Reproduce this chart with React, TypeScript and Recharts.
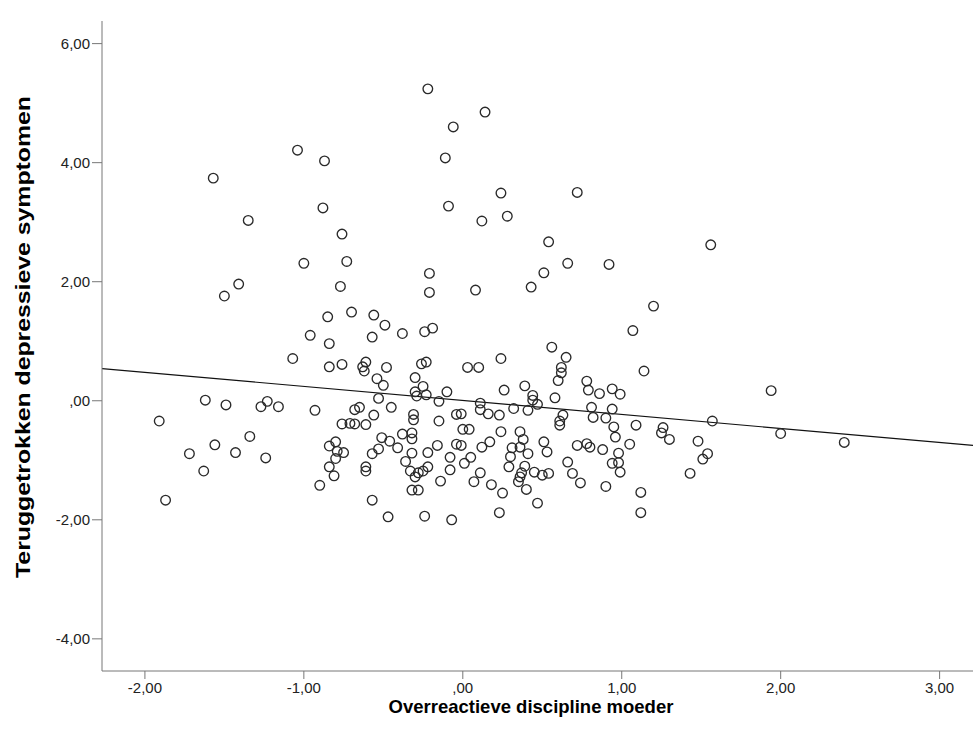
import { ScatterChart, Scatter, XAxis, YAxis, ReferenceLine } from "recharts";

// x: Overreactieve discipline moeder
const disciplineMoeder = [
  -1.04, -0.87, -1.57, -0.88, -1.35, -0.76, -1.0, -0.73, -1.41, -0.77, -1.5,
  -0.22, 0.14, -0.06, -0.11, 0.24, 0.72, -0.09, 0.12, 0.28, 0.54, 0.66, 0.92, -0.21, 0.51, -0.21, 0.08, 0.43,
  1.56, 1.2, 1.07, 1.14, 1.94, 1.57, 2.0, 2.4, 1.09, 1.26, 1.25, 1.3, 1.48, 1.54, 1.51, 1.43, 1.12, 1.12,
  -1.07, -1.62, -1.49, -1.23, -1.27, -1.16, -1.91, -1.34, -1.56, -1.72, -1.43, -1.24, -1.63, -1.87,
  -0.85, -0.7, -0.56, -0.49, -0.96, -0.84, -0.57, -0.38, -0.24, -0.19,
  -0.84, -0.76, -0.63, -0.61, -0.62, -0.48, -0.26, -0.23, -0.54, -0.5, -0.3, -0.25, -0.3, -0.29, -0.23, -0.1, 0.03, -0.53, -0.15,
  -0.93, -0.68, -0.65, -0.45, -0.56, -0.76, -0.71, -0.68, -0.61, -0.31, -0.31, -0.15, -0.04, -0.01, 0.0,
  -0.38, -0.32, -0.32, -0.51, -0.46, -0.8, -0.84, -0.41, -0.16, -0.04, -0.01,
  -0.79, -0.75, -0.53, -0.57, -0.32, -0.22, -0.8, -0.36, -0.08, 0.01,
  -0.84, -0.61, -0.61, -0.33, -0.28, -0.25, -0.22, -0.08, -0.81, -0.3, -0.9, -0.14, -0.32, -0.28, -0.57, -0.47, -0.24, -0.07,
  0.56, 0.65, 0.24, 0.1, 0.62, 0.62, 0.6, 0.78, 0.79, 0.86, 0.94, 0.99, 0.26, 0.39, 0.44, 0.44, 0.47, 0.58,
  0.11, 0.11, 0.16, 0.23, 0.32, 0.41, 0.63, 0.61, 0.61, 0.81, 0.82, 0.9, 0.94, 0.95, 0.96,
  0.04, 0.24, 0.36, 0.38, 0.17, 0.12, 0.31, 0.36, 0.41, 0.51, 0.53, 0.72, 0.78, 0.8, 0.88, 1.05, 0.98,
  0.05, 0.3, 0.29, 0.39, 0.45, 0.37, 0.36, 0.35, 0.4, 0.5, 0.54, 0.66, 0.69, 0.74, 0.94, 0.98, 0.99, 0.9,
  0.11, 0.07, 0.18, 0.25, 0.47, 0.23,
];

// y: Teruggetrokken depressieve symptomen
const depressieveSymptomen = [
  4.21, 4.03, 3.74, 3.24, 3.03, 2.8, 2.31, 2.34, 1.96, 1.92, 1.76,
  5.24, 4.85, 4.6, 4.08, 3.49, 3.5, 3.27, 3.02, 3.1, 2.67, 2.31, 2.29, 2.14, 2.15, 1.82, 1.86, 1.91,
  2.62, 1.59, 1.18, 0.5, 0.17, -0.34, -0.55, -0.7, -0.41, -0.45, -0.54, -0.65, -0.68, -0.89, -0.98, -1.22, -1.54, -1.88,
  0.71, 0.01, -0.07, -0.01, -0.1, -0.1, -0.34, -0.6, -0.74, -0.89, -0.87, -0.96, -1.18, -1.67,
  1.41, 1.49, 1.44, 1.27, 1.1, 0.96, 1.07, 1.13, 1.16, 1.22,
  0.57, 0.61, 0.57, 0.65, 0.5, 0.56, 0.62, 0.65, 0.37, 0.26, 0.39, 0.24, 0.15, 0.08, 0.1, 0.15, 0.56, 0.04, -0.01,
  -0.16, -0.15, -0.11, -0.11, -0.24, -0.39, -0.38, -0.39, -0.4, -0.23, -0.32, -0.34, -0.23, -0.22, -0.48,
  -0.56, -0.54, -0.64, -0.62, -0.68, -0.69, -0.76, -0.79, -0.75, -0.73, -0.75,
  -0.85, -0.87, -0.81, -0.89, -0.88, -0.87, -0.97, -1.02, -0.95, -1.05,
  -1.11, -1.11, -1.18, -1.18, -1.21, -1.18, -1.11, -1.16, -1.26, -1.28, -1.42, -1.35, -1.5, -1.5, -1.67, -1.95, -1.94, -2.0,
  0.9, 0.73, 0.71, 0.56, 0.56, 0.47, 0.34, 0.33, 0.18, 0.12, 0.2, 0.11, 0.18, 0.25, 0.09, 0.01, -0.06, 0.05,
  -0.04, -0.15, -0.22, -0.24, -0.13, -0.16, -0.24, -0.34, -0.41, -0.11, -0.28, -0.29, -0.14, -0.44, -0.61,
  -0.48, -0.52, -0.52, -0.65, -0.69, -0.78, -0.79, -0.78, -0.89, -0.69, -0.86, -0.75, -0.72, -0.78, -0.82, -0.73, -0.88,
  -0.95, -0.94, -1.11, -1.1, -1.2, -1.21, -1.28, -1.36, -1.49, -1.25, -1.22, -1.03, -1.22, -1.38, -1.05, -1.04, -1.2, -1.44,
  -1.21, -1.36, -1.41, -1.55, -1.72, -1.88,
];

const xTicks = [-2, -1, 0, 1, 2, 3];
const yTicks = [-4, -2, 0, 2, 4, 6];

// fit line end points (at the axis limits)
const fitX = [-2.27, 3.21];
const fitY = [0.54, -0.75];

const points = disciplineMoeder.map((x, i) => ({ x, y: depressieveSymptomen[i] }));

const FONT = '"Liberation Sans", Arial, sans-serif';

// SPSS style: 2 decimals, comma, no leading zero
const fmt = (v: number) => {
  const s = Math.abs(v).toFixed(2).replace(".", ",");
  const t = s.startsWith("0,") ? s.slice(1) : s;
  return v < 0 ? "-" + t : t;
};

const Ring = (props: any) => {
  if (props.cx == null || props.cy == null) return <g />;
  return <circle cx={props.cx} cy={props.cy} r={4.8} fill="none" stroke="#2a2a2a" strokeWidth={1.35} />;
};

const titleStyle = {
  position: "absolute" as const,
  whiteSpace: "nowrap" as const,
  fontFamily: FONT,
  fontWeight: "bold" as const,
  color: "#000",
};

const tickStyle = { fill: "#222", fontSize: 15, fontFamily: FONT };

export default function App() {
  return (
    <div style={{ position: "absolute", left: 0, top: 0, width: 974, height: 746, background: "#fff" }}>
      <ScatterChart width={974} height={746} margin={{ top: 21, right: 1, bottom: 45, left: 42 }}>
        <XAxis
          type="number"
          dataKey="x"
          domain={[-2.27, 3.21]}
          ticks={xTicks}
          allowDataOverflow
          tickFormatter={fmt}
          height={30}
          tickSize={8}
          tickMargin={3}
          stroke="#777"
          tick={tickStyle}
        />
        <YAxis
          type="number"
          dataKey="y"
          domain={[-4.54, 6.38]}
          ticks={yTicks}
          allowDataOverflow
          tickFormatter={fmt}
          width={60}
          tickSize={10}
          tickMargin={2}
          stroke="#777"
          tick={tickStyle}
        />
        <ReferenceLine
          segment={[
            { x: fitX[0], y: fitY[0] },
            { x: fitX[1], y: fitY[1] },
          ]}
          stroke="#111"
          strokeWidth={1.2}
          ifOverflow="hidden"
        />
        <Scatter data={points} shape={Ring} isAnimationActive={false} />
      </ScatterChart>
      <div
        style={{
          ...titleStyle,
          left: 531,
          top: 707,
          fontSize: 18.5,
          transform: "translate(-50%, -50%)",
        }}
      >
        Overreactieve discipline moeder
      </div>
      <div
        style={{
          ...titleStyle,
          left: 23,
          top: 337,
          fontSize: 20,
          transform: "translate(-50%, -50%) rotate(-90deg) scaleX(1.24)",
        }}
      >
        Teruggetrokken depressieve symptomen
      </div>
    </div>
  );
}
